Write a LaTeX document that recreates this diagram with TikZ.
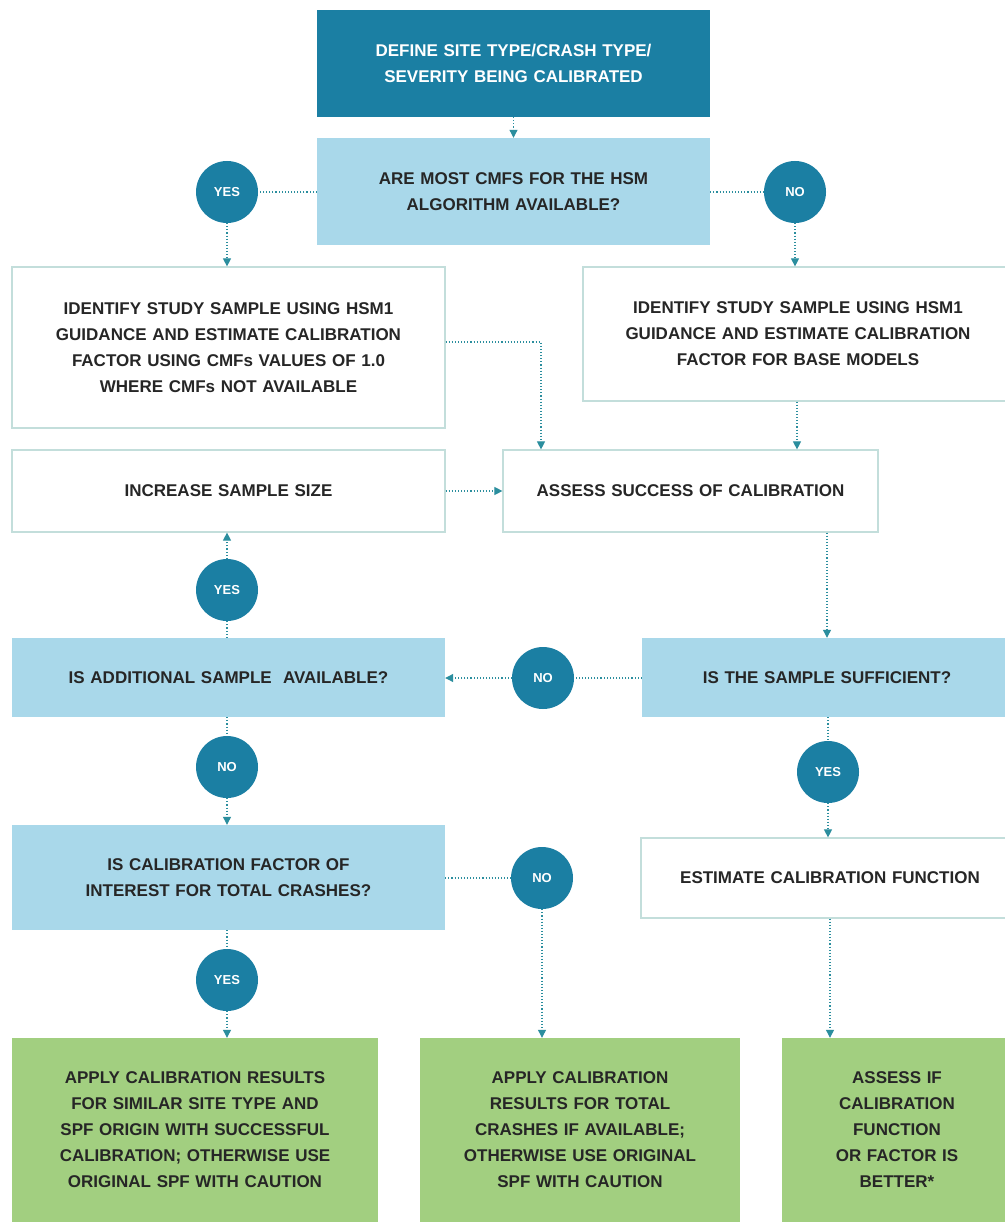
\documentclass[tikz,border=0pt]{standalone}
\usepackage{fontspec}
\setmainfont{Liberation Sans}
\usetikzlibrary{arrows.meta}
\definecolor{teal1}{HTML}{1B7FA3}
\definecolor{lblue}{HTML}{A9D8EA}
\definecolor{lgreen}{HTML}{A2CF80}
\definecolor{bord}{HTML}{C3DEDB}
\definecolor{txt}{HTML}{262626}
\definecolor{conn}{HTML}{2B8E9E}
\tikzset{
  base/.style={inner sep=0pt, align=center, font=\fontsize{17}{26}\selectfont\bfseries, text=txt},
  whitebox/.style={base, draw=bord, line width=1.2pt, fill=white},
  bluebox/.style={base, fill=lblue},
  greenbox/.style={base, fill=lgreen},
  darkbox/.style={base, fill=teal1, text=white},
  dot/.style={circle, fill=teal1, minimum size=62pt, inner sep=0pt, text=white, font=\fontsize{13}{14}\selectfont\bfseries},
  link/.style={draw=conn, line width=1.1pt, dotted},
  arr/.style={link, -{Triangle[width=8pt,length=8pt]}},
}
\newcommand{\bx}[7]{\node[#1, minimum width=#4pt, minimum height=#5pt, text width=#6pt] (#2) at (#3) {#7};}
\begin{document}
\begin{tikzpicture}[x=1pt,y=-1pt]
\useasboundingbox (0,0) rectangle (1004,1222);
\fill[white] (0,0) rectangle (1004,1222);
% boxes
\bx{darkbox}{top}{513.5,63.5}{393}{107}{380}{DEFINE SITE TYPE/CRASH TYPE/\\SEVERITY BEING CALIBRATED}
\bx{bluebox}{q1}{513.5,191.5}{393}{107}{380}{ARE MOST CMFS FOR THE HSM\\ALGORITHM AVAILABLE?}
\bx{whitebox}{idL}{228.5,347.5}{433}{161}{425}{IDENTIFY STUDY SAMPLE USING HSM1\\GUIDANCE AND ESTIMATE CALIBRATION\\FACTOR USING CMFs VALUES OF 1.0\\WHERE CMFs NOT AVAILABLE}
\bx{whitebox}{idR}{798,334}{430}{134}{425}{IDENTIFY STUDY SAMPLE USING HSM1\\GUIDANCE AND ESTIMATE CALIBRATION\\FACTOR FOR BASE MODELS}
\bx{whitebox}{inc}{228.5,491}{433}{82}{420}{INCREASE SAMPLE SIZE}
\bx{whitebox}{assess}{690.5,491}{375}{82}{370}{ASSESS SUCCESS OF CALIBRATION}
\bx{bluebox}{addl}{228.5,677.5}{433}{79}{420}{IS ADDITIONAL SAMPLE\ \ AVAILABLE?}
\bx{bluebox}{suff}{827,677.5}{370}{79}{360}{IS THE SAMPLE SUFFICIENT?}
\bx{bluebox}{calib}{228.5,877.5}{433}{105}{420}{IS CALIBRATION FACTOR OF\\INTEREST FOR TOTAL CRASHES?}
\bx{whitebox}{est}{830,878}{378}{80}{370}{ESTIMATE CALIBRATION FUNCTION}
\bx{greenbox}{g1}{195,1130}{366}{184}{350}{APPLY CALIBRATION RESULTS\\FOR SIMILAR SITE TYPE AND\\SPF ORIGIN WITH SUCCESSFUL\\CALIBRATION; OTHERWISE USE\\ORIGINAL SPF WITH CAUTION}
\bx{greenbox}{g2}{580,1130}{320}{184}{310}{APPLY CALIBRATION\\RESULTS FOR TOTAL\\CRASHES IF AVAILABLE;\\OTHERWISE USE ORIGINAL\\SPF WITH CAUTION}
\bx{greenbox}{g3}{897,1130}{230}{184}{200}{ASSESS IF\\CALIBRATION\\FUNCTION\\OR FACTOR IS\\BETTER*}
% decision dots
\node[dot] (yes1) at (227,192) {YES};
\node[dot] (no1) at (795,192) {NO};
\node[dot] (yes2) at (227,590) {YES};
\node[dot] (no2) at (543,678) {NO};
\node[dot] (no3) at (227,767) {NO};
\node[dot] (yes3) at (828,772) {YES};
\node[dot] (no4) at (542,878) {NO};
\node[dot] (yes4) at (227,980) {YES};
% connectors
\draw[arr] (top.south) -- (q1.north);
\draw[link] (q1.west |- yes1) -- (yes1.east);
\draw[link] (q1.east |- no1) -- (no1.west);
\draw[arr] (yes1.south) -- (idL.north -| yes1);
\draw[arr] (no1.south) -- (idR.north -| no1);
\coordinate (j1) at (541,342);
\draw[arr] (idL.east |- j1) -- (j1) -- (assess.north -| j1);
\draw[arr] (idR.south -| 797,0) -- (assess.north -| 797,0);
\draw[arr] (inc.east) -- (assess.west);
\draw[arr] (assess.south -| suff.north) -- (suff.north);
\draw[link] (suff.west |- no2) -- (no2.east);
\draw[arr] (no2.west) -- (addl.east |- no2);
\draw[link] (addl.north -| yes2) -- (yes2.south);
\draw[arr] (yes2.north) -- (inc.south -| yes2);
\draw[link] (addl.south -| no3) -- (no3.north);
\draw[arr] (no3.south) -- (calib.north -| no3);
\draw[link] (suff.south -| yes3) -- (yes3.north);
\draw[arr] (yes3.south) -- (est.north -| yes3);
\draw[link] (calib.east |- no4) -- (no4.west);
\draw[arr] (no4.south) -- (g2.north -| no4);
\draw[link] (calib.south -| yes4) -- (yes4.north);
\draw[arr] (yes4.south) -- (g1.north -| yes4);
\draw[arr] (est.south) -- (g3.north -| est.south);
\end{tikzpicture}
\end{document}
